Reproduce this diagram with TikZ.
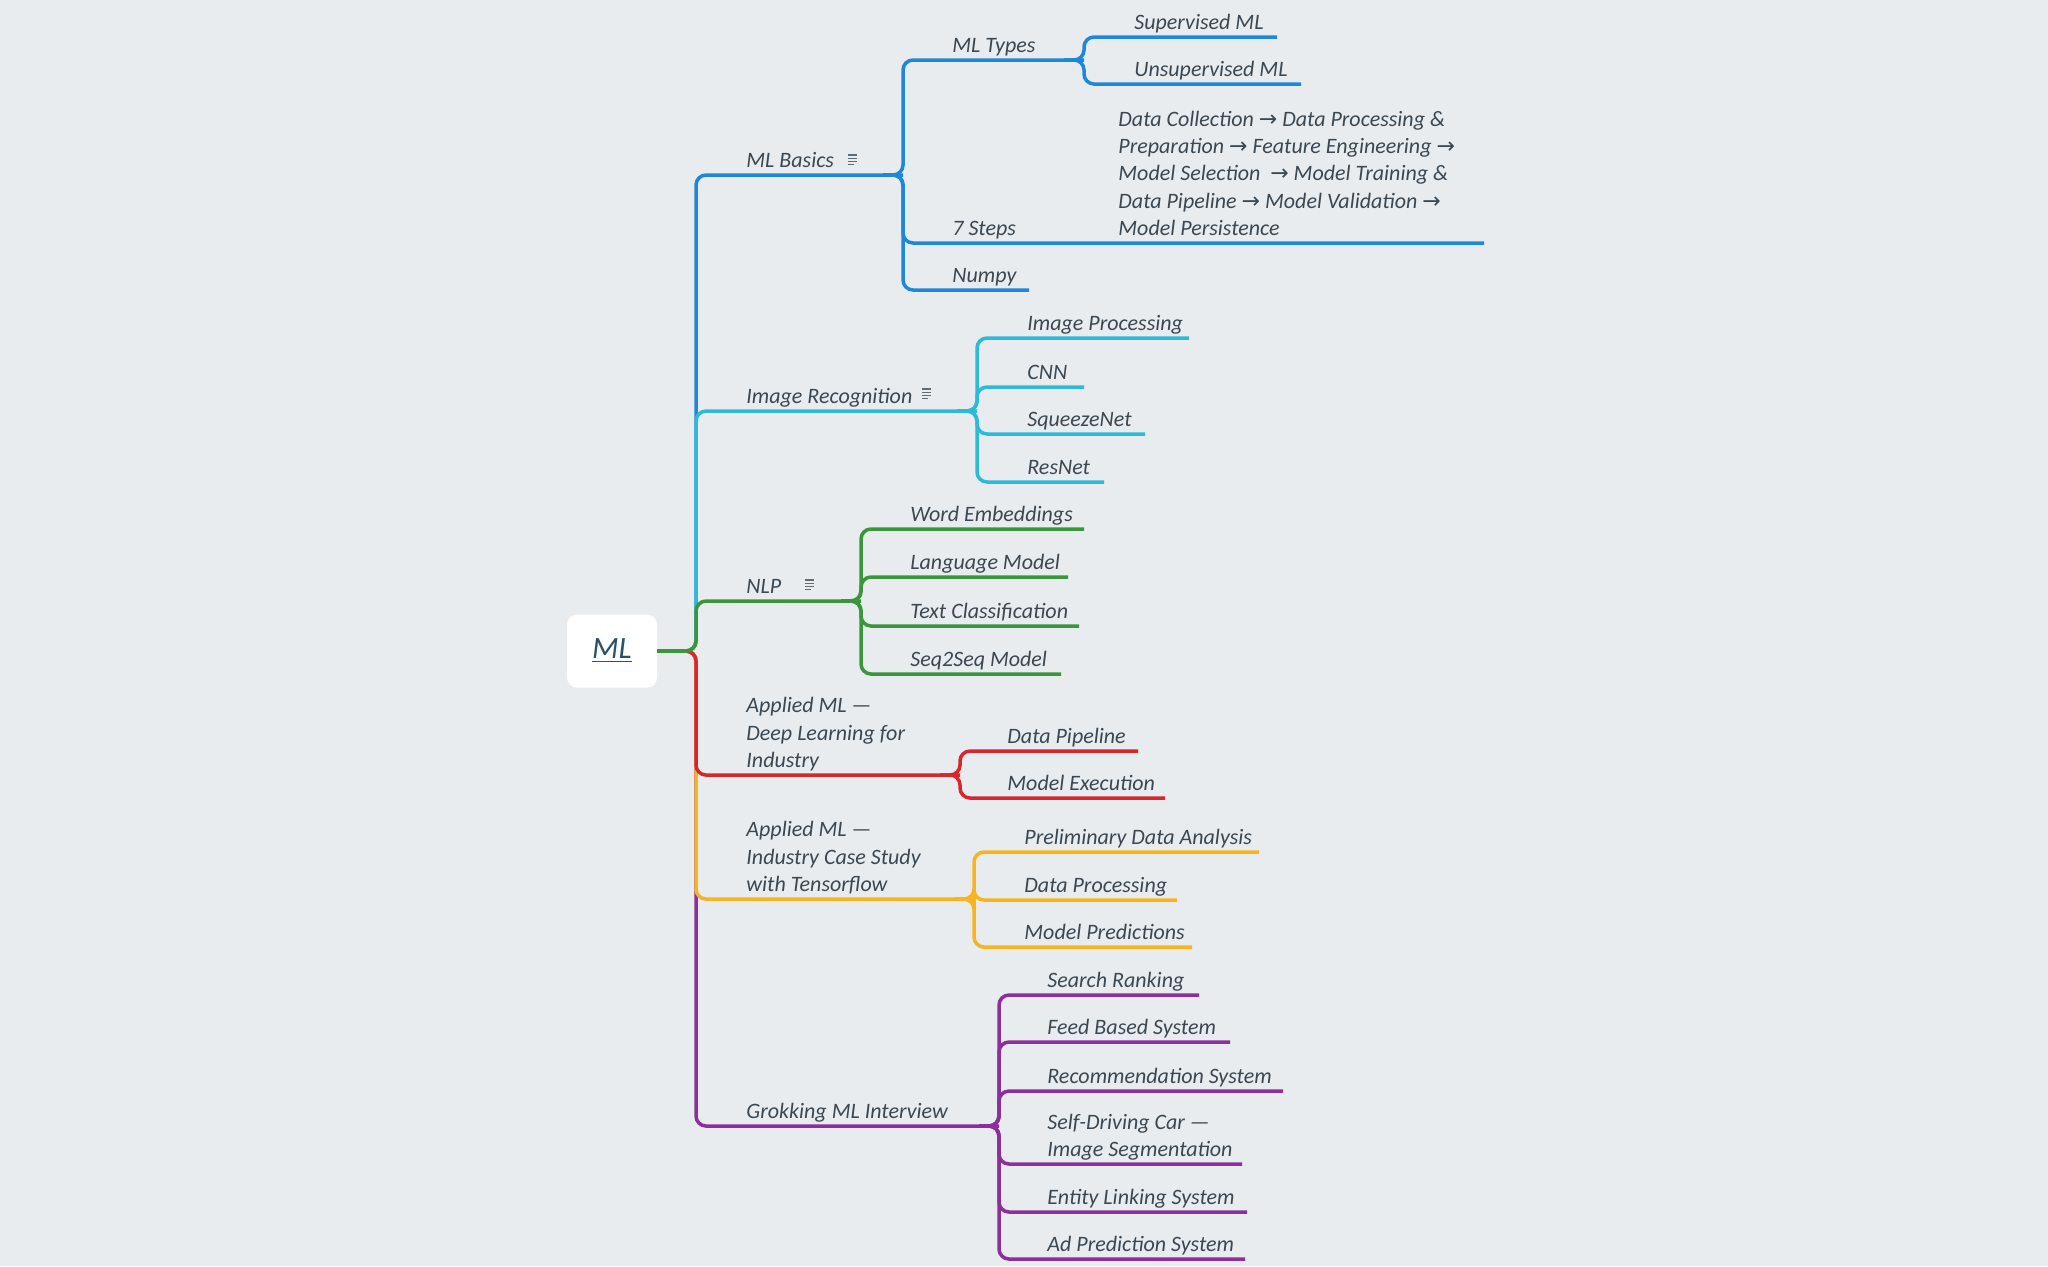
\documentclass[tikz,border=0pt]{standalone}
\usepackage{fontspec}
\setmainfont{Carlito}
\newfontfamily\symfont{DejaVu Sans}
\usetikzlibrary{positioning}
\definecolor{bgcol}{HTML}{E8ECEF}
\definecolor{txtcol}{HTML}{3B4751}
\definecolor{rootcol}{HTML}{2B5368}
\definecolor{cBlue}{HTML}{1F87D8}
\definecolor{cCyan}{HTML}{2DBAD6}
\definecolor{cGreen}{HTML}{3A963A}
\definecolor{cRed}{HTML}{D8262E}
\definecolor{cOrange}{HTML}{F8B41F}
\definecolor{cPurple}{HTML}{8C2F9D}
\newcommand{\ra}{{\symfont\fontsize{11}{11}\selectfont →}}
\tikzset{
  noteicon/.pic={
    \foreach \k in {0,1,2} \draw[txtcol!80,line width=0.6pt] (0,3.2*\k) -- (9,3.2*\k);
    \draw[txtcol!80,line width=0.6pt] (0,9.6) -- (6,9.6);
  }
}

\begin{document}
\begin{tikzpicture}[x=0.5pt,y=-0.5pt,
  lbl/.style={anchor=south west,inner sep=0pt,text depth=0pt,align=left,text=txtcol,
    font=\fontsize{11}{13.7}\selectfont\itshape},
  root/.style={fill=white,rounded corners=5pt,minimum width=45pt,minimum height=36.5pt,
    text=rootcol,font=\fontsize{15.5}{18}\selectfont\itshape},
  link/.style={line width=1.75pt,rounded corners=5pt}
]
  \fill[bgcol] (0,0) rectangle (2048,1266);
  \useasboundingbox (0,0) rectangle (2048,1266);

  % root
  \node[root] (ml) at (612,651) {\underline{ML}};
  \coordinate (trunk) at (696,651);

  % main branches
  \node[lbl] (basics) at (746,168) {ML Basics};
  \coordinate (basics-e) at (903,175);
  \pic at (848,155) {noteicon};
  \node[lbl] (imgrec) at (746,404) {Image Recognition};
  \coordinate (imgrec-e) at (977,411);
  \pic at (922,389) {noteicon};
  \node[lbl] (nlp) at (746,594) {NLP};
  \coordinate (nlp-e) at (861,601);
  \pic at (805,580) {noteicon};
  \node[lbl] (appdl) at (746,768) {Applied ML ---\\Deep Learning for\\Industry};
  \coordinate (appdl-e) at (960,775);
  \node[lbl] (appind) at (746,892) {Applied ML ---\\Industry Case Study\\with Tensorflow};
  \coordinate (appind-e) at (974,899);
  \node[lbl] (grok) at (746,1119) {Grokking ML Interview};
  \coordinate (grok-e) at (999,1126);

  % ML Basics
  \node[lbl] (mltypes) at (952,53) {ML Types};
  \coordinate (mltypes-e) at (1084,60);
  \node[lbl] (sup) at (1134,30) {Supervised ML};
  \coordinate (sup-e) at (1277,37);
  \node[lbl] (unsup) at (1134,77) {Unsupervised ML};
  \coordinate (unsup-e) at (1301,84);
  \node[lbl] (steps) at (952,236) {7 Steps};
  \node[lbl] (stepstext) at (1118,236) {Data Collection \ra{} Data Processing \&\\
    Preparation \ra{} Feature Engineering \ra\\
    Model Selection \ \ra{} Model Training \&\\
    Data Pipeline \ra{} Model Validation \ra\\
    Model Persistence};
  \coordinate (steps-e) at (1484,243);
  \node[lbl] (numpy) at (952,283) {Numpy};
  \coordinate (numpy-e) at (1029,290);

  % Image Recognition
  \node[lbl] (improc) at (1027,331) {Image Processing};
  \coordinate (improc-e) at (1189,338);
  \node[lbl] (cnn) at (1027,380) {CNN};
  \coordinate (cnn-e) at (1084,387);
  \node[lbl] (squeeze) at (1027,427) {SqueezeNet};
  \coordinate (squeeze-e) at (1145,434);
  \node[lbl] (resnet) at (1027,475) {ResNet};
  \coordinate (resnet-e) at (1104,482);

  % NLP
  \node[lbl] (wordemb) at (910,522) {Word Embeddings};
  \coordinate (wordemb-e) at (1084,529);
  \node[lbl] (langmod) at (910,570) {Language Model};
  \coordinate (langmod-e) at (1068,577);
  \node[lbl] (textcls) at (910,619) {Text Classification};
  \coordinate (textcls-e) at (1079,626);
  \node[lbl] (seqmod) at (910,667) {Seq2Seq Model};
  \coordinate (seqmod-e) at (1061,674);

  % Applied ML, deep learning
  \node[lbl] (datapipe) at (1007,744) {Data Pipeline};
  \coordinate (datapipe-e) at (1138,751);
  \node[lbl] (modexec) at (1007,791) {Model Execution};
  \coordinate (modexec-e) at (1165,798);

  % Applied ML, case study
  \node[lbl] (prelim) at (1024,845) {Preliminary Data Analysis};
  \coordinate (prelim-e) at (1259,852);
  \node[lbl] (dataproc) at (1024,893) {Data Processing};
  \coordinate (dataproc-e) at (1177,900);
  \node[lbl] (modpred) at (1024,940) {Model Predictions};
  \coordinate (modpred-e) at (1192,947);

  % Grokking
  \node[lbl] (search) at (1047,988) {Search Ranking};
  \coordinate (search-e) at (1199,995);
  \node[lbl] (feed) at (1047,1035) {Feed Based System};
  \coordinate (feed-e) at (1230,1042);
  \node[lbl] (recsys) at (1047,1084) {Recommendation System};
  \coordinate (recsys-e) at (1283,1091);
  \node[lbl] (selfdrv) at (1047,1157) {Self-Driving Car ---\\Image Segmentation};
  \coordinate (selfdrv-e) at (1242,1164);
  \node[lbl] (entity) at (1047,1205) {Entity Linking System};
  \coordinate (entity-e) at (1247,1212);
  \node[lbl] (adpred) at (1047,1252) {Ad Prediction System};
  \coordinate (adpred-e) at (1245,1259);

  % connectors
  \draw[link,cBlue] (ml.east) -- (trunk) |- (basics-e);
  \draw[link,cCyan] (ml.east) -- (trunk) |- (imgrec-e);
  \draw[link,cPurple] (ml.east) -- (trunk) |- (grok-e);
  \draw[link,cOrange] (ml.east) -- (trunk) |- (appind-e);
  \draw[link,cRed] (ml.east) -- (trunk) |- (appdl-e);
  \draw[link,cGreen] (ml.east) -- (trunk) |- (nlp-e);

  \foreach \c in {mltypes,steps,numpy}
    \draw[link,cBlue] (basics-e) ++(-20,0) -- (basics-e) |- (\c-e);
  \foreach \c in {sup,unsup}
    \draw[link,cBlue] (mltypes-e) ++(-20,0) -- (mltypes-e) |- (\c-e);
  \foreach \c in {improc,cnn,squeeze,resnet}
    \draw[link,cCyan] (imgrec-e) ++(-20,0) -- (imgrec-e) |- (\c-e);
  \foreach \c in {wordemb,langmod,textcls,seqmod}
    \draw[link,cGreen] (nlp-e) ++(-20,0) -- (nlp-e) |- (\c-e);
  \foreach \c in {datapipe,modexec}
    \draw[link,cRed] (appdl-e) ++(-20,0) -- (appdl-e) |- (\c-e);
  \foreach \c in {prelim,dataproc,modpred}
    \draw[link,cOrange] (appind-e) ++(-20,0) -- (appind-e) |- (\c-e);
  \foreach \c in {search,feed,recsys,selfdrv,entity,adpred}
    \draw[link,cPurple] (grok-e) ++(-20,0) -- (grok-e) |- (\c-e);
\end{tikzpicture}
\end{document}
